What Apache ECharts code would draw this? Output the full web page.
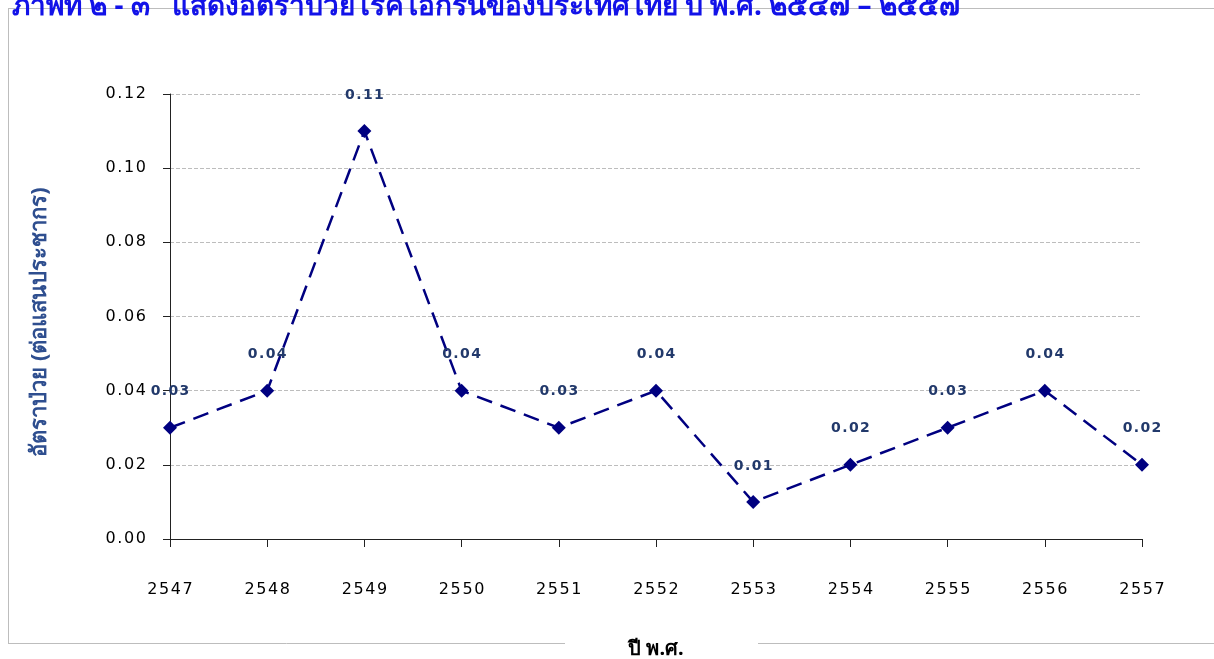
<!DOCTYPE html>
<html>
<head>
<meta charset="utf-8">
<script src="https://cdn.jsdelivr.net/npm/echarts@6/dist/echarts.min.js"></script>
<style>html,body{margin:0;padding:0;background:#fff}#c{width:1214px;height:659px}</style>
</head>
<body>
<div id="c"></div>
<script>
const titleText = 'ภาพที่ ๒ - ๓   แสดงอัตราป่วยโรคไอกรนของประเทศไทย ปี พ.ศ. ๒๕๔๗ – ๒๕๕๗';
const years = ['2547','2548','2549','2550','2551','2552','2553','2554','2555','2556','2557'];
const rates = [0.03, 0.04, 0.11, 0.04, 0.03, 0.04, 0.01, 0.02, 0.03, 0.04, 0.02];
const yAxisName = 'อัตราป่วย (ต่อแสนประชากร)';
const xAxisName = 'ปี พ.ศ.';

const sp = s => String(s).split('').join('\u200A');
const chart = echarts.init(document.getElementById('c'), null, {renderer: 'canvas'});
chart.setOption({
  animation: false,
  backgroundColor: '#fff',
  grid: {left: 170, right: 72, top: 94, bottom: 120, containLabel: false, outerBoundsMode: 'none'},
  graphic: [
    {type: 'line', shape: {x1: 8, y1: 8.5, x2: 1214, y2: 8.5}, style: {stroke: '#bdbdbd', lineWidth: 1}, silent: true},
    {type: 'line', shape: {x1: 8.5, y1: 8, x2: 8.5, y2: 644}, style: {stroke: '#bdbdbd', lineWidth: 1}, silent: true},
    {type: 'line', shape: {x1: 8, y1: 643.5, x2: 565, y2: 643.5}, style: {stroke: '#bdbdbd', lineWidth: 1}, silent: true},
    {type: 'line', shape: {x1: 758, y1: 643.5, x2: 1214, y2: 643.5}, style: {stroke: '#bdbdbd', lineWidth: 1}, silent: true},
    {type: 'text', left: 12, top: -7, z: 10, style: {text: titleText, fill: '#1212E8', font: 'bold 28px "Noto Sans", sans-serif'}, silent: true},
    {type: 'text', x: 40, y: 322, rotation: Math.PI / 2, z: 10, silent: true,
     style: {text: yAxisName, fill: '#2E4E8F', font: 'bold 22px "Noto Sans", sans-serif', align: 'center', verticalAlign: 'middle'}}
  ],
  xAxis: {
    type: 'category',
    data: years,
    boundaryGap: false,
    name: xAxisName,
    nameLocation: 'middle',
    nameGap: 100,
    nameTextStyle: {color: '#000', fontWeight: 'bold', fontSize: 20, fontFamily: '"Noto Sans", sans-serif'},
    axisLine: {lineStyle: {color: '#222', width: 1}},
    axisTick: {show: true, alignWithLabel: true, length: 8, lineStyle: {color: '#222'}},
    axisLabel: {margin: 43, color: '#000', fontSize: 16, fontFamily: '"DejaVu Sans", sans-serif', formatter: v => sp(v)},
    splitLine: {show: false}
  },
  yAxis: {
    type: 'value',
    min: 0, max: 0.12, interval: 0.02,
    axisLine: {show: true, lineStyle: {color: '#222', width: 1}},
    axisTick: {show: true, inside: false, length: 7, lineStyle: {color: '#222'}},
    axisLabel: {margin: 24, color: '#000', fontSize: 16, fontFamily: '"DejaVu Sans", sans-serif', formatter: v => sp(v.toFixed(2))},
    splitLine: {show: true, lineStyle: {color: '#bdbdbd', type: 'dashed', width: 1}}
  },
  series: [{
    type: 'line',
    data: rates,
    symbol: 'diamond',
    symbolSize: 14,
    itemStyle: {color: '#000080'},
    lineStyle: {color: '#000080', width: 2.5, type: [16, 9]},
    label: {show: true, position: 'top', distance: 22, color: '#22396B', fontWeight: 'bold', fontSize: 14, fontFamily: '"DejaVu Sans", sans-serif', formatter: p => sp(p.value.toFixed(2))}
  }]
});
</script>
</body>
</html>
